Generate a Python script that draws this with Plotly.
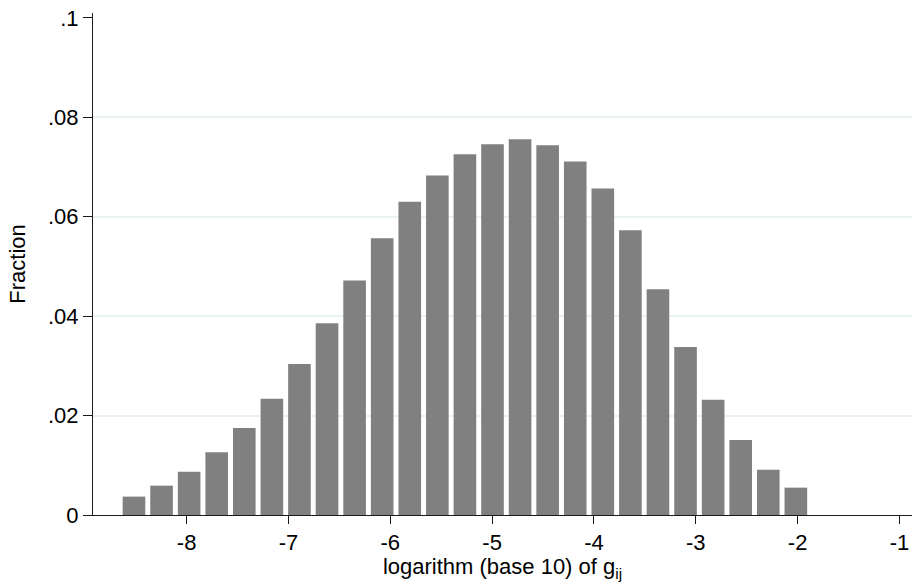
import plotly.graph_objects as go

# Histogram data (fraction per bin)
bin_start = -8.652
bin_width = 0.2708
fractions = [0.0037, 0.0059, 0.0087, 0.0126, 0.0175, 0.0234, 0.0304, 0.0386,
             0.0472, 0.0557, 0.0630, 0.0683, 0.0726, 0.0746, 0.0756, 0.0744,
             0.0711, 0.0657, 0.0573, 0.0454, 0.0338, 0.0232, 0.0151, 0.0091,
             0.0055]

x_tickvals = [-8, -7, -6, -5, -4, -3, -2, -1]
x_ticktext = ["-8", "-7", "-6", "-5", "-4", "-3", "-2", "-1"]
y_tickvals = [0, 0.02, 0.04, 0.06, 0.08, 0.1]
y_ticktext = ["0", ".02", ".04", ".06", ".08", ".1"]
y_gridvals = [0.02, 0.04, 0.06, 0.08]

FONT = "Arial, Liberation Sans, sans-serif"
AXIS_COLOR = "#1a1a1a"
FS = 22

fig = go.Figure(go.Bar(
    y=fractions,
    x0=bin_start + bin_width / 2,
    dx=bin_width,
    marker=dict(color="rgb(128,128,128)", line=dict(width=0)),
    hoverinfo="x+y",
))

fig.update_layout(
    width=912, height=582,
    margin=dict(l=93, r=0, t=13, b=67, autoexpand=False),
    paper_bgcolor="white", plot_bgcolor="white",
    bargap=0.18,
    showlegend=False,
    font=dict(family=FONT, size=FS, color="black"),
)

fig.update_xaxes(
    range=[-8.919, -0.877],
    tickmode="array", tickvals=x_tickvals, ticktext=x_ticktext,
    ticks="outside", ticklen=8, tickwidth=1, tickcolor=AXIS_COLOR,
    showline=True, linecolor=AXIS_COLOR, linewidth=1,
    showgrid=False, zeroline=False,
    tickfont=dict(size=FS),
    title=dict(text="logarithm (base 10) of g<sub>ij</sub>", font=dict(size=FS), standoff=2),
)

fig.update_yaxes(
    range=[0, 0.101],
    tickmode="array", tickvals=y_tickvals, ticktext=y_ticktext,
    ticks="outside", ticklen=9, tickwidth=1, tickcolor=AXIS_COLOR,
    showline=True, linecolor=AXIS_COLOR, linewidth=1,
    showgrid=False, zeroline=False,
    tickfont=dict(size=FS),
    minor=dict(tickvals=y_gridvals, showgrid=True, gridcolor="#EAF2F3",
               gridwidth=1.5, ticks=""),
    title=dict(text="Fraction", font=dict(size=FS), standoff=16),
)

fig.write_html("out.html",
               config={"displayModeBar": False},
               post_script="document.body.style.margin='0';document.body.style.padding='0';")
